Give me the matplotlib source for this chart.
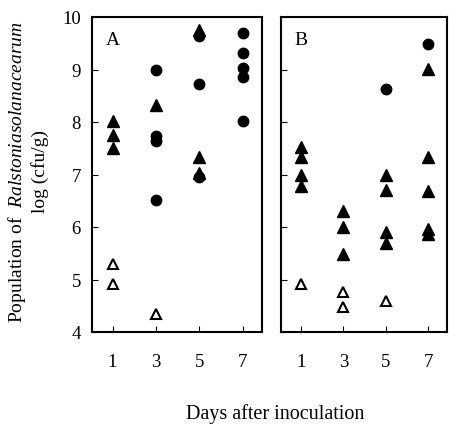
import matplotlib
matplotlib.use('Agg')
import matplotlib.pyplot as plt

plt.rcParams['font.family'] = 'Liberation Serif'
plt.rcParams['mathtext.fontset'] = 'custom'
plt.rcParams['mathtext.rm'] = 'Liberation Serif'
plt.rcParams['mathtext.it'] = 'Liberation Serif:italic'

# panel A
a_tri_x = [1, 1, 1, 3, 5, 5, 5]
a_tri_y = [8.02, 7.75, 7.5, 8.32, 9.75, 7.33, 7.02]
a_open_x = [1, 1, 3]
a_open_y = [5.3, 4.91, 4.34]
a_circ_x = [3, 3, 3, 3, 5, 5, 5, 7, 7, 7, 7, 7]
a_circ_y = [9.0, 7.74, 7.64, 6.52, 9.63, 8.72, 6.95, 9.7, 9.31, 9.02, 8.85, 8.02]

# panel B
b_tri_x = [1, 1, 1, 1, 3, 3, 3, 5, 5, 5, 5, 7, 7, 7, 7, 7]
b_tri_y = [7.52, 7.33, 7.0, 6.79, 6.31, 6.0, 5.49, 7.0, 6.71, 5.9, 5.69,
           9.01, 7.33, 6.69, 5.96, 5.87]
b_open_x = [1, 3, 3, 5]
b_open_y = [4.91, 4.76, 4.47, 4.6]
b_circ_x = [5, 7]
b_circ_y = [8.63, 9.49]

days = [1, 3, 5, 7]

W, H = 449, 427
fig = plt.figure(figsize=(W / 100, H / 100), dpi=100)
axA = fig.add_axes([92 / W, 1 - 333 / H, 170 / W, 315 / H])
axB = fig.add_axes([281 / W, 1 - 333 / H, 166 / W, 315 / H])

ms = 7.5
for ax, tx, ty, ox, oy, cx, cy, lab in [
        (axA, a_tri_x, a_tri_y, a_open_x, a_open_y, a_circ_x, a_circ_y, 'A'),
        (axB, b_tri_x, b_tri_y, b_open_x, b_open_y, b_circ_x, b_circ_y, 'B')]:
    ax.plot(cx, cy, 'o', color='black', ms=ms, ls='none')
    ax.plot(tx, ty, '^', color='black', ms=ms + 0.8, ls='none')
    ax.plot(ox, oy, '^', mfc='white', mec='black', mew=1.5, ms=ms, ls='none')
    ax.set_xlim(0.05, 7.9)
    ax.set_ylim(4, 10)
    ax.set_xticks(days)
    ax.set_yticks(range(4, 11))
    ax.tick_params(direction='in', length=4, labelsize=13.5)
    ax.tick_params(axis='x', pad=15)
    ax.tick_params(axis='y', pad=8)
    ax.text(1, 9.57, lab, fontsize=14, ha='center', va='center')
    for s in ax.spines.values():
        s.set_linewidth(1.5)

axB.set_yticklabels([])

fig.text(17 / W, 1 - 172 / H,
         r'Population of  $\mathit{Ralstoniasolanacearum}$',
         rotation=90, ha='center', va='center', fontsize=14)
fig.text(40 / W, 1 - 172 / H, 'log (cfu/g)',
         rotation=90, ha='center', va='center', fontsize=14)
fig.text(275 / W, 1 - 414 / H, 'Days after inoculation',
         ha='center', va='center', fontsize=14.5)

fig.savefig('out.png', dpi=100)
